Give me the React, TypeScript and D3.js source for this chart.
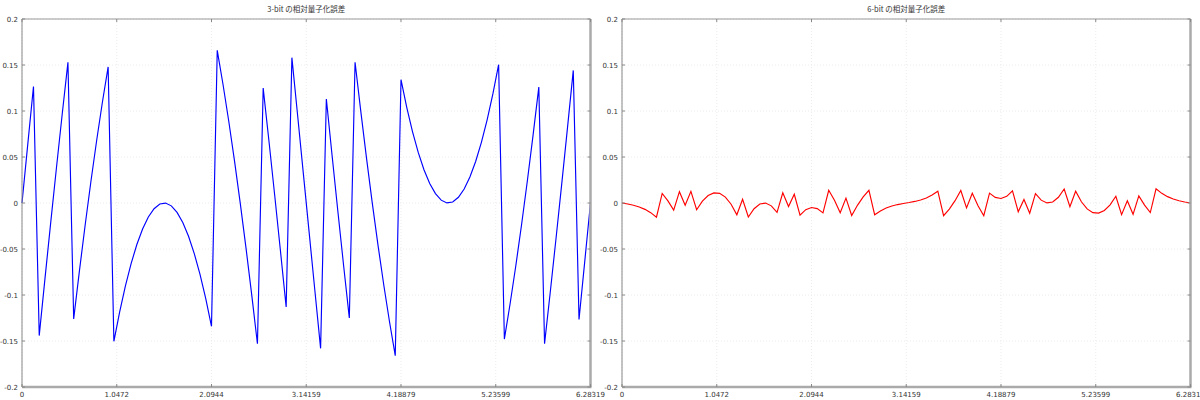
import React from "react";
import * as d3 from "d3";

// x-axis ticks (multiples of pi/3)
const X_TICKS = [0, 1.0472, 2.0944, 3.14159, 4.18879, 5.23599, 6.28319];
const X_TICK_LABELS = ["0", "1.0472", "2.0944", "3.14159", "4.18879", "5.23599", "6.28319"];
const Y_TICKS = [-0.2, -0.15, -0.1, -0.05, 0, 0.05, 0.1, 0.15, 0.2];
const Y_TICK_LABELS = ["-0.2", "-0.15", "-0.1", "-0.05", "0", "0.05", "0.1", "0.15", "0.2"];
const TITLES = ["3-bit の相対量子化誤差", "6-bit の相対量子化誤差"];
const X_MAX = 6.28319;

// 100 evenly spaced samples over [0, 2π]
const ERR_3BIT = [
  0, 0.0634, 0.1266, -0.1441, -0.0822, -0.0213, 0.0383, 0.0965, 0.1529, -0.126,
  -0.0738, -0.0239, 0.0234, 0.0679, 0.1095, 0.1479, -0.1503, -0.1185, -0.0904, -0.0659,
  -0.0451, -0.0282, -0.0152, -0.0062, -0.0011, -0.0001, -0.0031, -0.0102, -0.0212, -0.0362,
  -0.055, -0.0776, -0.104, -0.134, 0.1659, 0.1291, 0.0891, 0.046, 0.0001, -0.0485,
  -0.0996, -0.153, 0.1249, 0.0676, 0.0087, -0.0516, -0.113, 0.158, 0.0951, 0.0317,
  -0.0317, -0.0951, -0.158, 0.113, 0.0516, -0.0087, -0.0676, -0.1249, 0.153, 0.0996,
  0.0485, -0.0001, -0.046, -0.0891, -0.1291, -0.1659, 0.134, 0.104, 0.0776, 0.055,
  0.0362, 0.0212, 0.0102, 0.0031, 0.0001, 0.0011, 0.0062, 0.0152, 0.0282, 0.0451,
  0.0659, 0.0904, 0.1185, 0.1503, -0.1479, -0.1095, -0.0679, -0.0234, 0.0239, 0.0738,
  0.126, -0.1529, -0.0965, -0.0383, 0.0213, 0.0822, 0.1441, -0.1266, -0.0634, 0,
];

const ERR_6BIT = [
  0, -0.0011, -0.0024, -0.0043, -0.0069, -0.0105, -0.0154, 0.0104, 0.0023, -0.0077,
  0.0123, -0.0024, 0.0127, -0.0073, 0.002, 0.0081, 0.011, 0.0105, 0.0064, -0.0013,
  -0.0128, 0.0041, -0.0152, -0.0062, -0.0011, -0.0001, -0.0031, -0.0102, 0.0111, -0.0039,
  0.0095, -0.0131, -0.0072, -0.0049, -0.0061, -0.0107, 0.0138, 0.003, -0.0106, 0.0053,
  -0.0136, -0.0025, 0.0066, 0.0138, -0.0128, -0.0086, -0.0055, -0.0033, -0.0017, -0.0005,
  0.0005, 0.0017, 0.0033, 0.0055, 0.0086, 0.0128, -0.0138, -0.0066, 0.0025, 0.0136,
  -0.0053, 0.0106, -0.003, -0.0138, 0.0107, 0.0061, 0.0049, 0.0072, 0.0131, -0.0095,
  0.0039, -0.0111, 0.0102, 0.0031, 0.0001, 0.0011, 0.0062, 0.0152, -0.0041, 0.0128,
  0.0013, -0.0064, -0.0105, -0.011, -0.0081, -0.002, 0.0073, -0.0127, 0.0024, -0.0123,
  0.0077, -0.0023, -0.0104, 0.0154, 0.0105, 0.0069, 0.0043, 0.0024, 0.0011, 0,
];

const SERIES = [ERR_3BIT, ERR_6BIT];
const COLORS = ["#0000ff", "#ff0000"];

const FONT = "'DejaVu Sans', 'Noto Sans', sans-serif";
const CJK = "'Noto Sans CJK JP', 'DejaVu Sans', sans-serif";

function Panel({ offset, idx }: { offset: number; idx: number }) {
  const left = 22, right = 590.5, top = 19, bottom = 387;
  const x = d3.scaleLinear().domain([0, X_MAX]).range([left, right]);
  const y = d3.scaleLinear().domain([-0.2, 0.2]).range([bottom, top]);
  const data = SERIES[idx];
  const n = data.length;
  const line = d3
    .line<number>()
    .x((_, i) => x((i * X_MAX) / (n - 1)))
    .y((d) => y(d));
  return (
    <g transform={`translate(${offset},0)`}>
      <text x={(left + right) / 2} y={12} textAnchor="middle" fontSize={7.5} fill="#333" fontFamily={CJK}>
        {TITLES[idx]}
      </text>
      {X_TICKS.map((t, i) => (
        <line key={"gx" + i} x1={x(t)} x2={x(t)} y1={top} y2={bottom} stroke="#ececec" strokeWidth={1} strokeDasharray="1,2" />
      ))}
      {Y_TICKS.map((t, i) => (
        <line key={"gy" + i} x1={left} x2={right} y1={y(t)} y2={y(t)} stroke="#ececec" strokeWidth={1} strokeDasharray="1,2" />
      ))}
      <path d={line(data) || ""} fill="none" stroke={COLORS[idx]} strokeWidth={1.15} strokeLinejoin="miter" />
      {/* frame */}
      <line x1={left} x2={right} y1={top} y2={top} stroke="#999" strokeWidth={1} />
      <line x1={left} x2={left} y1={top} y2={bottom} stroke="#888" strokeWidth={1} />
      <line x1={left} x2={right + 1} y1={bottom} y2={bottom} stroke="#aaa" strokeWidth={2.5} />
      <line x1={right} x2={right} y1={top} y2={bottom} stroke="#aaa" strokeWidth={2.5} />
      {X_TICKS.map((t, i) => (
        <g key={"xt" + i}>
          <line x1={x(t)} x2={x(t)} y1={top} y2={top + 3} stroke="#888" />
          <line x1={x(t)} x2={x(t)} y1={bottom} y2={bottom - 3} stroke="#888" />
          <text x={x(t)} y={397} textAnchor="middle" fontSize={7} fill="#333" fontFamily={FONT}>
            {X_TICK_LABELS[i]}
          </text>
        </g>
      ))}
      {Y_TICKS.map((t, i) => (
        <g key={"yt" + i}>
          <line x1={left} x2={left + 3} y1={y(t)} y2={y(t)} stroke="#888" />
          <line x1={right} x2={right - 3} y1={y(t)} y2={y(t)} stroke="#888" />
          <text x={18} y={y(t) + 2.5} textAnchor="end" fontSize={7} fill="#333" fontFamily={FONT}>
            {Y_TICK_LABELS[i]}
          </text>
        </g>
      ))}
    </g>
  );
}

export default function App() {
  return (
    <svg
      width={1200}
      height={400}
      style={{ position: "absolute", left: 0, top: 0, background: "#fff" }}
    >
      <rect x={0} y={0} width={1200} height={400} fill="#fff" />
      <Panel offset={0} idx={0} />
      <Panel offset={600} idx={1} />
    </svg>
  );
}
